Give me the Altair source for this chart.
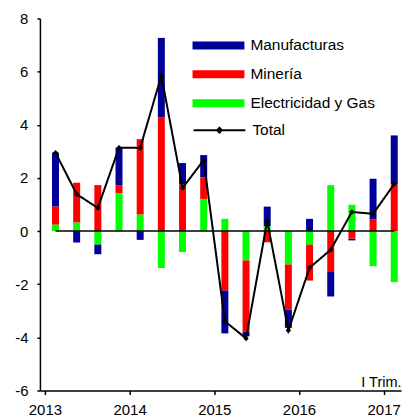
import altair as alt
import pandas as pd

years = [2013, 2013, 2013, 2013, 2014, 2014, 2014, 2014, 2015, 2015, 2015, 2015,
         2016, 2016, 2016, 2016, 2017]
quarter = [1, 2, 3, 4, 1, 2, 3, 4, 1, 2, 3, 4, 1, 2, 3, 4, 1]

manufacturas = [2.03, -0.43, -0.37, 1.41, -0.33, 3.00, 0.79, 0.84, -1.62, -0.17,
                0.74, -0.68, 0.46, -0.92, -0.07, 1.54, 1.83]
mineria = [0.68, 1.50, 1.73, 0.30, 2.84, 4.27, 1.77, 0.81, -2.23, -2.69,
           -0.42, -1.71, -1.36, -1.54, -0.28, 0.43, 1.77]
electricidad = [0.24, 0.32, -0.50, 1.43, 0.62, -1.39, -0.79, 1.21, 0.46, -1.10,
                0.18, -1.25, -0.50, 1.73, 0.99, -1.32, -1.92]
total = [2.95, 1.39, 0.87, 3.14, 3.13, 5.85, 1.62, 2.67, -3.39, -4.04,
         0.38, -3.74, -1.38, -0.70, 0.72, 0.65, 1.77]

series = ["Manufacturas", "Minería", "Electricidad y Gas"]
colors = ["#000099", "#FF0000", "#00FF00"]
stack_order = [2, 1, 0]
year_ticks = [2013, 2014, 2015, 2016, 2017]
y_ticks = [-6, -4, -2, 0, 2, 4, 6, 8]

pos = [y + (q - 0.5) / 4 for y, q in zip(years, quarter)]

rows = []
for name, vals, o in zip(series, [manufacturas, mineria, electricidad], stack_order):
    for p, v in zip(pos, vals):
        rows.append({"pos": p, "serie": name, "valor": v, "orden": o})
bars_df = pd.DataFrame(rows)
tot_df = pd.DataFrame({"pos": pos, "total": total, "serie": ["Total"] * len(pos)})

FONT = "Liberation Sans"
bar_path = "M-5.5,-0.5L1,-0.5L1,0.5L-5.5,0.5Z"
total_path = "M-5.5,0L1,0M-2.25,-0.3L-1.95,0L-2.25,0.3L-2.55,0Z"

xscale = alt.Scale(domain=[2013, 2017.146], nice=False, zero=False)
yscale = alt.Scale(domain=[-6, 8], nice=False)

xaxis = alt.Axis(values=year_ticks, title="I Trim.", titleAnchor="end",
                 titleBaseline="alphabetic", titleY=-4, titleFont=FONT,
                 titleFontSize=14.5, titleFontWeight="normal", titleColor="black",
                 tickSize=4, labelPadding=8, grid=False,
                 labelExpr="'\u00a0\u00a0' + format(datum.value, 'd')")
yaxis = alt.Axis(values=y_ticks, title=None, tickSize=3, labelPadding=9, grid=False,
                 labelExpr="datum.value < 0 ? '-' + abs(datum.value) : '' + datum.value")

bars = alt.Chart(bars_df).mark_bar(size=7).encode(
    x=alt.X("pos:Q", scale=xscale, axis=xaxis),
    y=alt.Y("valor:Q", stack="zero", scale=yscale, axis=yaxis),
    color=alt.Color("serie:N", scale=alt.Scale(domain=series, range=colors),
                    legend=alt.Legend(title=None, orient="none", legendX=189, legendY=19,
                                      symbolType=bar_path, symbolSize=256,
                                      symbolStrokeWidth=0, labelFont=FONT,
                                      labelFontSize=15.5, labelColor="black",
                                      labelOffset=6, rowPadding=12, padding=0)),
    order=alt.Order("orden:Q"),
)

zero = alt.Chart(tot_df).mark_rule(color="black", strokeWidth=1.5).encode(
    x="min(pos):Q", x2="max(pos):Q", y=alt.datum(0)
)

line = alt.Chart(tot_df).mark_line(color="black", strokeWidth=2).encode(
    x="pos:Q",
    y="total:Q",
    strokeDash=alt.StrokeDash(
        "serie:N", scale=alt.Scale(domain=["Total"], range=[[1, 0]]),
        legend=alt.Legend(title=None, orient="none", legendX=189, legendY=103,
                          symbolType=total_path, symbolSize=256, symbolStrokeWidth=2,
                          symbolStrokeColor="black", symbolFillColor="black",
                          labelFont=FONT, labelFontSize=15.5, labelColor="black",
                          labelOffset=6, padding=0)),
)

points = alt.Chart(tot_df).mark_point(filled=True, color="black", shape="diamond",
                                      size=30, opacity=1).encode(
    x="pos:Q", y="total:Q"
)

chart = alt.layer(bars, zero, line, points).properties(
    width=362, height=373,
    autosize=alt.AutoSizeParams(type="none"),
    padding={"left": 32, "top": 10, "right": 1, "bottom": 27},
).configure_view(stroke=None).configure_axis(
    domainColor="black", domainWidth=1.5, tickColor="black", tickWidth=1.5,
    labelFont=FONT, labelFontSize=15, labelColor="black",
)

chart.save("out.html", embed_options={"renderer": "svg", "actions": False})
